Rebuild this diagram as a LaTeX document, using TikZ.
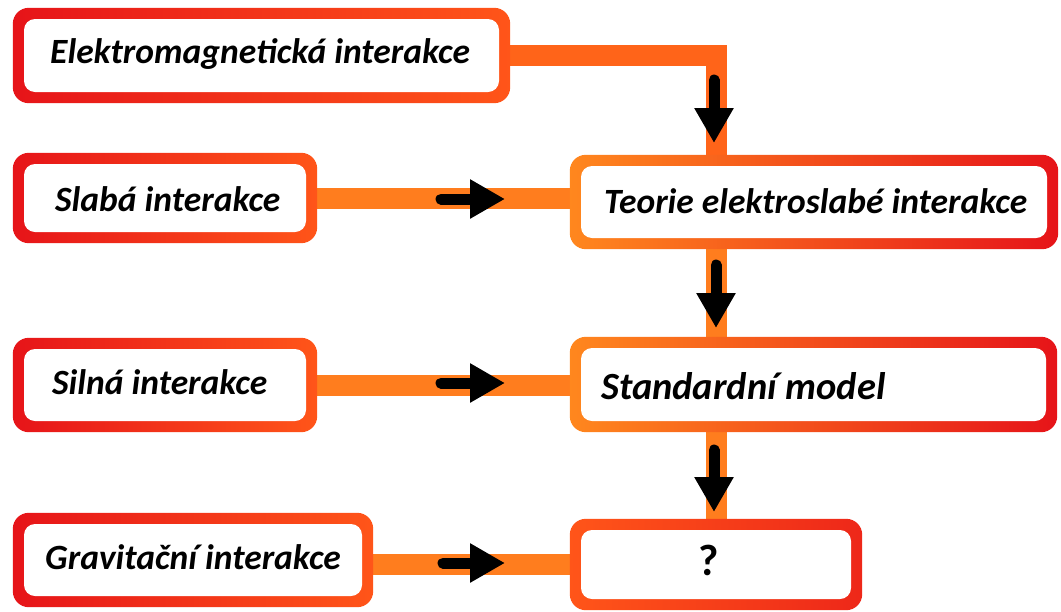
\documentclass[tikz,border=0pt]{standalone}
\usepackage{fontspec}
\setmainfont{Carlito}
\usetikzlibrary{arrows.meta,calc}
\pgfdeclarelayer{bands}
\pgfdeclarelayer{frames}
\pgfsetlayers{bands,frames,main}
\definecolor{cred}{RGB}{230,20,25}
\definecolor{cored}{RGB}{255,85,25}
\definecolor{corange}{RGB}{255,135,30}
\definecolor{cband}{RGB}{255,125,30}
\definecolor{cbandtop}{RGB}{255,100,25}
\tikzset{
  inner/.style={draw=none, fill=white, rounded corners=11pt, inner sep=0pt},
  lbl/.style={font=\fontsize{35.5}{40}\selectfont\bfseries\itshape, inner sep=0pt, anchor=west},
  band/.style={line width=21pt, line cap=butt, line join=miter},
  blk/.style={line width=11pt, line cap=round, black, -{Triangle[length=35pt,width=37pt]}},
}
\newcommand{\frameL}[1]{\shade[left color=cred, right color=cored, rounded corners=16pt]
  ($(#1.north west)+(-11,-11)$) rectangle ($(#1.south east)+(11,11)$);}
\newcommand{\frameR}[3]{\shade[left color=#2, right color=#3, rounded corners=16pt]
  ($(#1.north west)+(-11,-11)$) rectangle ($(#1.south east)+(11,11)$);}
\begin{document}
\begin{tikzpicture}[x=1pt,y=-1pt]
\useasboundingbox (0,0) rectangle (1061,611);
% white inner boxes
\node[inner, minimum width=475pt, minimum height=73pt] (b1) at (261.5,55.5) {};
\node[inner, minimum width=282pt, minimum height=68pt] (b2) at (165,198) {};
\node[inner, minimum width=282pt, minimum height=72pt] (b3) at (165,385) {};
\node[inner, minimum width=338pt, minimum height=72pt] (b4) at (193,560) {};
\node[inner, minimum width=466pt, minimum height=72pt] (b5) at (814,202) {};
\node[inner, minimum width=465pt, minimum height=73pt] (b6) at (813.5,384.5) {};
\node[inner, minimum width=270pt, minimum height=69pt] (b7) at (716,564.5) {};
% labels
\node[lbl] (t1) at (50,54) {Elektromagnetická interakce};
\node[lbl] (t2) at (55,199) {Slabá interakce};
\node[lbl] (t3) at (52,382) {Silná interakce};
\node[lbl] (t4) at (45,557) {Gravitační interakce};
\node[lbl] (t5) at (604,201) {Teorie elektroslabé interakce};
\node[lbl, font=\fontsize{38.5}{43}\selectfont\bfseries\itshape] (t6) at (601,386) {Standardní model};
\node[lbl, anchor=center, font=\fontsize{44}{48}\selectfont\bfseries\upshape] (t7) at (709,560) {?};
% frames
\begin{pgfonlayer}{frames}
\frameL{b1}\frameL{b2}\frameL{b3}\frameL{b4}
\frameR{b5}{corange}{cred}
\frameR{b6}{corange}{cred}
\frameR{b7}{cored}{cred!70!cored}
\end{pgfonlayer}
% bands
\begin{pgfonlayer}{bands}
\draw[band, cbandtop] (b1) -| (b5.north -| b7.north);
\draw[band, cband] (b5 -| b7) -- (b7);
\draw[band, cband] (b2) -- (b2 -| b5);
\draw[band, cband] (b3) -- (b3 -| b6);
\draw[band, cband] (b7 -| b4) -- (b7);
\end{pgfonlayer}
% black arrows
\coordinate (a1s) at (714,80);
\coordinate (a1e) at (714,143);
\coordinate (a2s) at (716,265);
\coordinate (a2e) at (716,328);
\coordinate (a3s) at (714,450);
\coordinate (a3e) at (714,512);
\coordinate (h2s) at (441,199);
\coordinate (h2e) at (505,199);
\coordinate (h3s) at (441,383);
\coordinate (h3e) at (505,383);
\coordinate (h4s) at (443,563);
\coordinate (h4e) at (505,563);
\draw[blk] (a1s) -- (a1e);
\draw[blk] (a2s) -- (a2e);
\draw[blk] (a3s) -- (a3e);
\draw[blk] (h2s) -- (h2e);
\draw[blk] (h3s) -- (h3e);
\draw[blk] (h4s) -- (h4e);
\end{tikzpicture}
\end{document}
